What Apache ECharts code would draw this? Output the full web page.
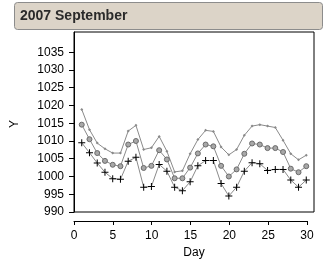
<!DOCTYPE html>
<html><head><meta charset="utf-8">
<script src="https://cdn.jsdelivr.net/npm/echarts@6/dist/echarts.min.js"></script>
<style>html,body{margin:0;padding:0;background:#fff}#c{width:331px;height:261px}</style>
</head><body><div id="c"></div>
<script>
const title = '2007 September';
const days = [1,2,3,4,5,6,7,8,9,10,11,12,13,14,15,16,17,18,19,20,21,22,23,24,25,26,27,28,29,30];
const seriesTop = [1018.9,1013.2,1009.4,1007.8,1006.6,1006.6,1012.8,1014.4,1007.6,1008.1,1011.3,1007.1,1001.3,1001.6,1006.4,1010.4,1013.0,1012.7,1008.3,1006.1,1007.6,1011.6,1014.2,1014.6,1014.2,1013.8,1010.2,1006.4,1004.7,1006.0];
const seriesMid = [1014.6,1010.5,1006.6,1004.4,1003.3,1002.9,1009.0,1010.0,1002.4,1003.0,1007.4,1004.8,999.5,999.5,1002.5,1006.5,1009.0,1008.5,1003.0,1000.0,1002.0,1006.4,1009.3,1009.0,1008.0,1008.0,1006.9,1002.2,1001.2,1002.9];
const seriesLow = [1009.5,1006.7,1003.8,1001.2,999.4,999.2,1004.3,1005.4,997.0,997.2,1003.4,1001.5,997.0,996.0,998.5,1003.0,1004.5,1004.5,998.0,994.5,997.0,1001.5,1003.9,1003.6,1001.7,1002.0,1002.0,999.0,997.0,999.0];
const yTicks = [990,995,1000,1005,1010,1015,1020,1025,1030,1035];
const xTicks = [0,5,10,15,20,25,30];

const pair = arr => days.map((d,i)=>[d,arr[i]]);
const plus = 'path://M3,0h1v3h3v1h-3v3h-1v-3h-3v-1h3z';
const chart = echarts.init(document.getElementById('c'));
const lineStyle = {color:'#8a8a8a', width:1};
chart.setOption({
  animation:false,
  textStyle:{fontFamily:'Liberation Sans, Arial, sans-serif'},
  graphic:[
    {type:'rect', shape:{x:14.5,y:2.5,width:308,height:27,r:3}, style:{fill:'#dcd4c8', stroke:'#8c8c8c', lineWidth:1}},
    {type:'text', x:20, y:16, style:{text:title, fill:'#2a2a2a', font:'bold 14px Liberation Sans, Arial, sans-serif', verticalAlign:'middle'}},
    {type:'text', x:194, y:253, style:{text:'Day', fill:'#000', font:'12px Liberation Sans, Arial, sans-serif', align:'center', verticalAlign:'middle'}}
  ],
  grid:[
    {left:74, top:32, width:240, height:180, show:true, borderColor:'#000', borderWidth:1, backgroundColor:'transparent'},
    {left:74, top:211, width:233, height:10}
  ],
  xAxis:[
    {gridIndex:0, type:'value', min:0, max:31, show:false},
    {gridIndex:1, type:'value', min:0, max:30, interval:5, position:'bottom',
     axisLine:{show:true, lineStyle:{color:'#000', width:1}},
     axisTick:{show:true, length:4, lineStyle:{color:'#000'}, customValues:xTicks},
     axisLabel:{color:'#000', fontSize:12, margin:9, customValues:xTicks, formatter:v=>String(v)},
     splitLine:{show:false}}
  ],
  yAxis:[
    {gridIndex:0, type:'value', min:990, max:1040.7, offset:8,
     name:'Y', nameLocation:'middle', nameGap:45, nameTextStyle:{color:'#000', fontSize:12, padding:[0,0,0,-4]},
     axisLine:{show:true, lineStyle:{color:'#000', width:1}},
     axisTick:{show:true, length:5, lineStyle:{color:'#000'}, customValues:yTicks},
     axisLabel:{color:'#000', fontSize:12, margin:2, customValues:yTicks, formatter:v=>String(v)},
     splitLine:{show:false}},
    {gridIndex:1, type:'value', show:false}
  ],
  series:[
    {type:'line', xAxisIndex:0, yAxisIndex:0, data:pair(seriesTop), symbol:'diamond', symbolSize:3,
     itemStyle:{color:'#8a8a8a'}, lineStyle:lineStyle},
    {type:'line', xAxisIndex:0, yAxisIndex:0, data:pair(seriesMid), symbol:'circle', symbolSize:5,
     itemStyle:{color:'#a8a8a8', borderColor:'#6a6a6a', borderWidth:1}, lineStyle:lineStyle},
    {type:'line', xAxisIndex:0, yAxisIndex:0, data:pair(seriesLow), symbol:plus, symbolSize:7,
     itemStyle:{color:'#000'}, lineStyle:lineStyle, z:3}
  ]
});
</script></body></html>
